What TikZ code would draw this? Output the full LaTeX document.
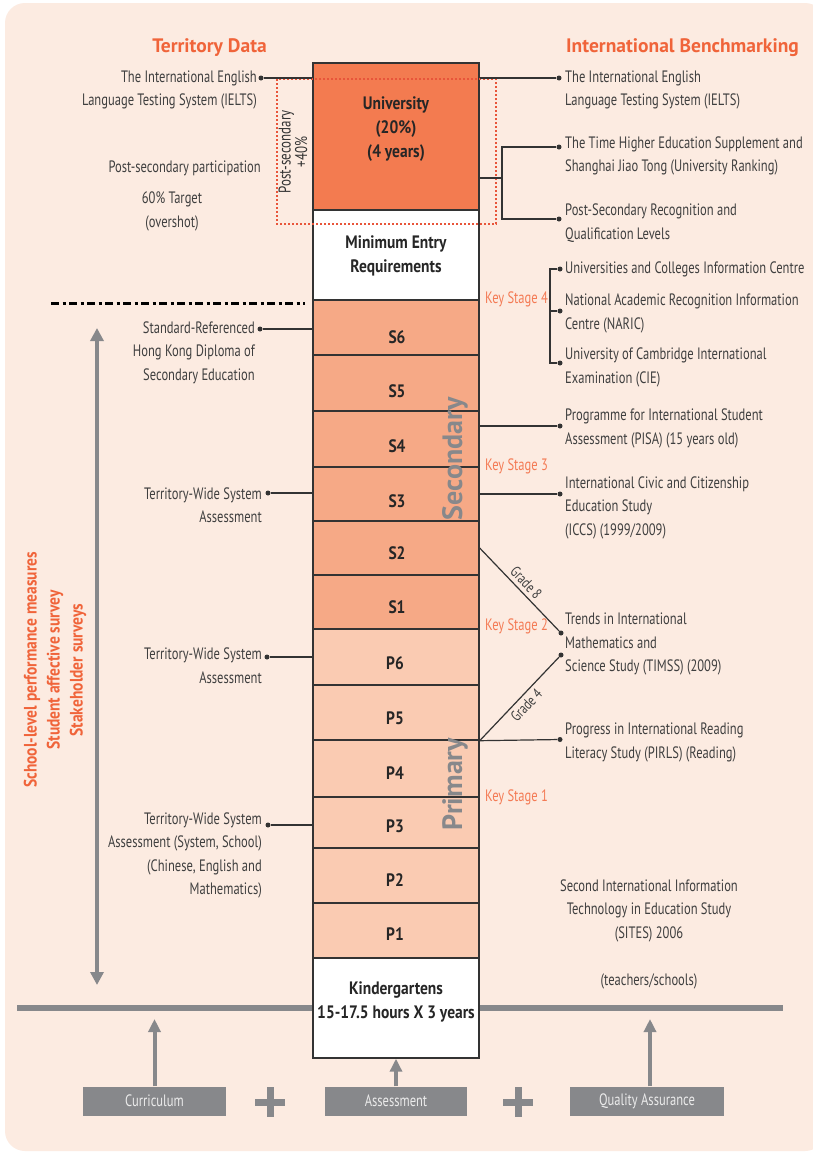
\documentclass[tikz,border=0pt]{standalone}
\usepackage{fontspec}
\setmainfont{PT Sans}[FakeStretch=0.76]
\newfontfamily\cbfont{PT Sans}[FakeStretch=0.86]
\newfontfamily\widefont{PT Sans}
\usetikzlibrary{arrows.meta,calc}
\definecolor{bgc}{HTML}{FCEBE1}
\definecolor{unic}{HTML}{F37B50}
\definecolor{secc}{HTML}{F6A986}
\definecolor{pric}{HTML}{FACBB2}
\definecolor{orc}{HTML}{F0643A}
\definecolor{ksc}{HTML}{F47B55}
\definecolor{greyc}{HTML}{87888B}
\definecolor{txtc}{HTML}{3F3F3F}
\definecolor{linec}{HTML}{333333}
\definecolor{dotred}{HTML}{E8553A}
\begin{document}
\begin{tikzpicture}[x=1pt,y=-1pt,
  cell/.style={draw=linec, line width=1.4pt, minimum width=166pt, inner sep=0pt},
  celltext/.style={font=\cbfont\bfseries\fontsize{18}{24}\selectfont, text=black!85, align=center},
  body/.style={font=\fontsize{16.5}{23.5}\selectfont, text=txtc, inner sep=0pt},
  bodyL/.style={body, anchor=west, align=left},
  bodyR/.style={body, anchor=east, align=right},
  ks/.style={font=\fontsize{16.5}{20}\selectfont, text=ksc, anchor=west, inner sep=0pt},
  title/.style={font=\widefont\bfseries\fontsize{19.5}{22}\selectfont, text=orc},
  conn/.style={draw=linec, line width=1.2pt},
  dotn/.style={circle, fill=linec, inner sep=0pt, minimum size=5pt},
  gbox/.style={fill=greyc, text=white!92!black, font=\fontsize{16.5}{18}\selectfont, minimum height=29pt, inner sep=0pt},
  garrow/.style={draw=greyc, line width=4pt, -{Triangle[width=12pt,length=13pt]}},
  stage/.style={font=\widefont\bfseries\fontsize{28}{30}\selectfont, text=greyc, rotate=90},
  gradel/.style={font=\fontsize{15}{16}\selectfont, text=txtc, inner sep=3.5pt}
]
\useasboundingbox (0,0) rectangle (813,1154);
\fill[white] (0,0) rectangle (813,1154);
\fill[bgc, rounded corners=20pt] (5,3) rectangle (825,1151);

% titles
\node[title] (tTD) at (209.5,48) {Territory Data};
\node[title] (tIB) at (682.5,48) {International Benchmarking};

% grey bottom bar
\coordinate (barL) at (17,1008);
\coordinate (barR) at (783,1008);
\draw[greyc, line width=6pt] (barL) -- (barR);

% column cells
\node[cell, fill=unic, minimum height=147pt] (univ) at (396,136.5) {};
\node[cell, fill=white, minimum height=90pt] (mer) at (396,255) {};
\node[cell, fill=secc, minimum height=55pt] (s6) at (396,327.5) {};
\node[cell, fill=secc, minimum height=56pt] (s5) at (396,383) {};
\node[cell, fill=secc, minimum height=56pt] (s4) at (396,439) {};
\node[cell, fill=secc, minimum height=54pt] (s3) at (396,494) {};
\node[cell, fill=secc, minimum height=54pt] (s2) at (396,548) {};
\node[cell, fill=secc, minimum height=54pt] (s1) at (396,602) {};
\node[cell, fill=pric, minimum height=56pt] (p6) at (396,657) {};
\node[cell, fill=pric, minimum height=55pt] (p5) at (396,712.5) {};
\node[cell, fill=pric, minimum height=57pt] (p4) at (396,768.5) {};
\node[cell, fill=pric, minimum height=51pt] (p3) at (396,822.5) {};
\node[cell, fill=pric, minimum height=55pt] (p2) at (396,875.5) {};
\node[cell, fill=pric, minimum height=55pt] (p1) at (396,930.5) {};
\node[cell, fill=white, minimum height=100pt] (kg) at (396,1008) {};

\node[stage] (tSec) at (455,459) {Secondary};
\node[stage] (tPri) at (455,784) {Primary};

\node[celltext] (lUniv) at (396,129) {University\\(20\%)\\(4 years)};
\node[celltext] (lMer) at (396,255.5) {Minimum Entry\\Requirements};
\node[celltext] (lS6) at (397,337) {S6};
\node[celltext] (lS5) at (397,391) {S5};
\node[celltext] (lS4) at (397,446) {S4};
\node[celltext] (lS3) at (397,501) {S3};
\node[celltext] (lS2) at (397,553) {S2};
\node[celltext] (lS1) at (397,607) {S1};
\node[celltext] (lP6) at (395,663) {P6};
\node[celltext] (lP5) at (395,718) {P5};
\node[celltext] (lP4) at (395,773) {P4};
\node[celltext] (lP3) at (395,826) {P3};
\node[celltext] (lP2) at (395,880) {P2};
\node[celltext] (lP1) at (395,934) {P1};
\node[celltext] (lKg) at (396,1002) {Kindergartens\\15-17.5 hours X 3 years};

% dotted red post-secondary frame
\draw[dotred, line width=1.3pt, dash pattern=on 1.6pt off 2.4pt] (277,79) rectangle (496,224);
\node[rotate=90, align=center, text=black!80, inner sep=0pt, font=\fontsize{17}{15}\selectfont] (tPS) at (293,152) {Post-secondary\\+40\%};

% left texts and connectors
\node[dotn] (dLI) at (261,78) {};
\draw[conn] (dLI) -- (dLI -| univ.west);
\node[bodyR] (tLI) at (257,90) {The International English\\Language Testing System (IELTS)};
\node[bodyR] (tPSP) at (261,168) {Post-secondary participation};
\node[body, align=center] (tTarget) at (172,211.5) {60\% Target\\(overshot)};

\draw[line width=3pt, black, dash pattern=on 8pt off 3.5pt on 3pt off 3.5pt] (51,303) -- (305,303);

\node[dotn] (dSR) at (260,329) {};
\draw[conn] (dSR) -- (dSR -| s6.west);
\node[bodyR] (tSR) at (255,352.5) {Standard-Referenced\\Hong Kong Diploma of\\Secondary Education};

\node[dotn] (dT3) at (268,493) {};
\draw[conn] (dT3) -- (dT3 -| s3.west);
\node[bodyR] (tT3) at (262,505) {Territory-Wide System\\Assessment};

\node[dotn] (dT6) at (267,657) {};
\draw[conn] (dT6) -- (dT6 -| p6.west);
\node[bodyR] (tT6) at (262,665.5) {Territory-Wide System\\Assessment};

\node[dotn] (dTp3) at (268,825) {};
\draw[conn] (dTp3) -- (dTp3 -| p3.west);
\node[bodyR] (tTp3) at (262,855.5) {Territory-Wide System\\Assessment (System, School)\\(Chinese, English and\\Mathematics)};

% grey vertical arrow and orange texts
\coordinate (gaT) at (97,328);
\coordinate (gaB) at (97,985);
\draw[draw=greyc, line width=4pt, {Triangle[width=13pt,length=13pt]}-{Triangle[width=13pt,length=13pt]}] (gaT) -- (gaB);
\node[rotate=90, align=center, text=orc, font=\cbfont\bfseries\fontsize{18}{23}\selectfont] (tSchool) at (55,670) {School-level performance measures\\Student affective survey\\Stakeholder surveys};

% right side connectors
\node[dotn] (dRI) at (559,78) {};
\draw[conn] (dRI -| univ.east) -- (dRI);
\node[bodyL] (tRI) at (565,90) {The International English\\Language Testing System (IELTS)};

\coordinate (uj) at (502,178);
\node[dotn] (dTH) at (559,147) {};
\node[dotn] (dPQ) at (559,219) {};
\draw[conn] (uj -| univ.east) -- (uj);
\draw[conn] (dTH) -| (uj) |- (dPQ);
\node[bodyL] (tTH) at (565,156) {The Time Higher Education Supplement and\\Shanghai Jiao Tong (University Ranking)};
\node[bodyL] (tPQ) at (565,223) {Post-Secondary Recognition and\\Qualification Levels};

\coordinate (kb) at (550,311);
\node[dotn] (dUC) at (560,269) {};
\node[dotn] (dNA) at (560,311) {};
\node[dotn] (dCI) at (560,363) {};
\draw[conn] (dUC) -| (kb) |- (dCI);
\draw[conn] (kb) -- (dNA);
\node[bodyL] (tUC) at (565,269) {Universities and Colleges Information Centre};
\node[bodyL] (tNA) at (565,313.5) {National Academic Recognition Information\\Centre (NARIC)};
\node[bodyL] (tCI) at (565,367.5) {University of Cambridge International\\Examination (CIE)};

\node[dotn] (dPI) at (560,426) {};
\draw[conn] (dPI -| s4.east) -- (dPI);
\node[bodyL] (tPI) at (565,428.5) {Programme for International Student\\Assessment (PISA) (15 years old)};

\node[dotn] (dIC) at (560,494) {};
\draw[conn] (dIC -| s3.east) -- (dIC);
\node[bodyL] (tIC) at (565,507.5) {International Civic and Citizenship\\Education Study\\(ICCS) (1999/2009)};

\node[dotn] (dTM1) at (561,633) {};
\node[dotn] (dTM2) at (561,655) {};
\draw[conn] (s2.east) -- node[sloped, above, gradel] {Grade 8} (dTM1);
\draw[conn] (p5.south east) -- node[sloped, below, gradel] {Grade 4} (dTM2);
\node[bodyL] (tTM) at (565,644) {Trends in International\\Mathematics and\\Science Study (TIMSS) (2009)};

\node[dotn] (dPR) at (560,739.5) {};
\draw[conn] (p5.south east) -- (dPR);
\node[bodyL] (tPR) at (565,742.5) {Progress in International Reading\\Literacy Study (PIRLS) (Reading)};

\node[ks] (ks4) at (485,299) {Key Stage 4};
\node[ks] (ks3) at (485,466) {Key Stage 3};
\node[ks] (ks2) at (485,626) {Key Stage 2};
\node[ks] (ks1) at (485,797) {Key Stage 1};

\node[body, align=center] (tSI) at (649,910.5) {Second International Information\\Technology in Education Study\\(SITES) 2006};
\node[body] (tTS) at (649,981) {(teachers/schools)};

% bottom boxes
\node[gbox, minimum width=143pt] (cur) at (154.5,1101) {Curriculum};
\node[gbox, minimum width=142pt] (ass) at (396,1101) {Assessment};
\node[gbox, minimum width=154pt] (qa) at (647,1101) {Quality Assurance};
\coordinate (curT) at (154.5,1019);
\coordinate (qaT) at (650,1019);
\draw[garrow] (cur.north) -- (curT);
\draw[garrow] (ass.north) -- (kg.south);
\draw[garrow] (qa.north -| qaT) -- (qaT);
\coordinate (plus1) at (270,1102);
\coordinate (plus2) at (518,1102);
\draw[greyc, line width=7pt] ($(plus1)+(-15,0)$) -- ($(plus1)+(15,0)$) ($(plus1)+(0,-15)$) -- ($(plus1)+(0,15)$);
\draw[greyc, line width=7pt] ($(plus2)+(-15,0)$) -- ($(plus2)+(15,0)$) ($(plus2)+(0,-15)$) -- ($(plus2)+(0,15)$);
\end{tikzpicture}
\end{document}
